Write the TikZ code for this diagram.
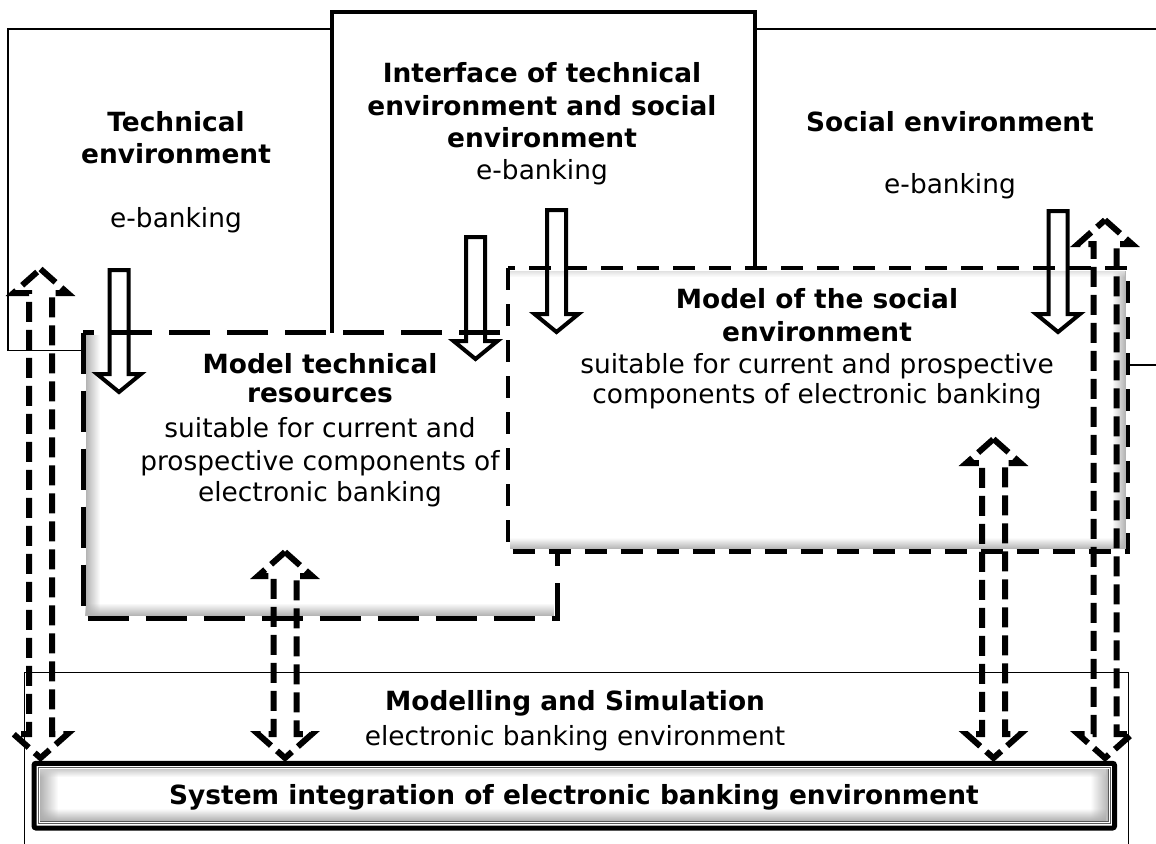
\documentclass[tikz,border=0pt]{standalone}
\usepackage{fontspec}
\setmainfont{DejaVu Sans}
\usetikzlibrary{calc,fadings}
\tikzfading[name=fadeR, left color=transparent!0, right color=transparent!100]
\tikzfading[name=fadeL, left color=transparent!100, right color=transparent!0]
\tikzfading[name=fadeU, top color=transparent!100, bottom color=transparent!0]
\tikzfading[name=fadeD, top color=transparent!0, bottom color=transparent!100]
\begin{document}
\begin{tikzpicture}[x=1pt,y=-1pt,
  box/.style={inner sep=0pt, outer sep=0pt, rectangle},
  thinbox/.style={box, draw=black, line width=1.3pt},
  ifbox/.style={box, draw=black, line width=3.5pt, fill=white},
  modelfill/.style={box, fill=white},
  mtborder/.style={draw=black, line width=5pt, dash pattern=on 41pt off 17pt},
  msborder/.style={draw=black, line width=4.8pt, dash pattern=on 22pt off 14pt},
  sysbox/.style={box, draw=black, line width=5pt, rounded corners=2pt, fill=white},
  txt/.style={anchor=base, inner sep=0pt, font=\fontsize{26.4}{32}\selectfont},
  btxt/.style={anchor=base, inner sep=0pt, font=\fontsize{26.4}{32}\selectfont\bfseries},
  blockarrow/.style={draw=black, line width=4pt, miter limit=10,
    to path={let \p1=(\tikztostart), \p2=(\tikztotarget) in
      (\x1-9.5pt,\y1) -- (\x1+9.5pt,\y1) -- (\x1+9.5pt,\y2+18pt) -- (\x1+22pt,\y2+18pt)
      -- (\x2,\y2) -- (\x1-22pt,\y2+18pt) -- (\x1-9.5pt,\y2+18pt) -- cycle}},
  dblarrow/.style={draw=black, line width=6pt, dash pattern=on 20pt off 8pt,
    to path={let \p1=(\tikztostart), \p2=(\tikztotarget) in
      (\x1,\y1) -- (\x1+27pt,\y1-24pt) -- (\x1+11.5pt,\y1-24pt) -- (\x1+11.5pt,\y2+24pt)
      -- (\x1+27pt,\y2+24pt) -- (\x2,\y2) -- (\x1-27pt,\y2+24pt) -- (\x1-11.5pt,\y2+24pt)
      -- (\x1-11.5pt,\y1-24pt) -- (\x1-27pt,\y1-24pt) -- cycle}}
]
\useasboundingbox (0,0) rectangle (1156,843);
\begin{scope}
\clip (0,0) rectangle (1156,843);

% environment boxes
\node[thinbox, minimum width=323pt, minimum height=321.5pt] (tech) at (169.5,189.75) {};
\node[thinbox, minimum width=420pt, minimum height=336pt] (soc) at (965,197) {};
\node[ifbox, minimum width=423pt, minimum height=326pt] (iface) at (543.5,175) {};

% model technical resources
\node[modelfill, minimum width=474pt, minimum height=285.5pt] (mt) at (320,475.25) {};
\fill[gray!60, path fading=fadeR] ([xshift=2.5pt,yshift=-2.5pt]mt.north west) rectangle ([xshift=17pt,yshift=2.5pt]mt.south west);
\fill[gray!60, path fading=fadeU] ([xshift=2.5pt,yshift=15pt]mt.south west) rectangle ([xshift=-2.5pt,yshift=2.5pt]mt.south east);
\draw[mtborder] (mt.north west) rectangle (mt.south east);

% model of the social environment
\node[modelfill, minimum width=620pt, minimum height=283.5pt] (ms) at (818,409.75) {};
\fill[gray!60, path fading=fadeL] ([xshift=-16pt,yshift=-2.5pt]ms.north east) rectangle ([xshift=-2.5pt,yshift=2.5pt]ms.south east);
\fill[gray!60, path fading=fadeU] ([xshift=2.5pt,yshift=14pt]ms.south west) rectangle ([xshift=-2.5pt,yshift=2.5pt]ms.south east);
\fill[gray!25, path fading=fadeD] ([xshift=2.5pt,yshift=-2.5pt]ms.north west) rectangle ([xshift=-2.5pt,yshift=-9pt]ms.north east);
\draw[msborder] (ms.north west) rectangle (ms.south east);

% modelling and simulation
\node[box, draw=black, line width=1pt, minimum width=1104pt, minimum height=228pt] (mod) at (576,786) {};

% system integration
\node[sysbox, minimum width=1080.5pt, minimum height=64.7pt] (sys) at (574.25,795.65) {};
\fill[gray!60, path fading=fadeR] (40,769) rectangle (58,821.5);
\fill[gray!60, path fading=fadeL] (1090.5,769) rectangle (1108.5,821.5);
\fill[gray!40, path fading=fadeD] (40,769) rectangle (1108.5,777);
\fill[gray!65, path fading=fadeU] (40,808.5) rectangle (1108.5,821.5);
\draw[draw=black!65, line width=0.6pt, double=white, double distance=1pt] (39,768) rectangle (1109.5,822.5);

% texts
\node[btxt] (tTech1) at (176,131) {Technical};
\node[btxt] (tTech2) at (176,163) {environment};
\node[txt]  (tTech3) at (176,227) {e-banking};

\node[btxt] (tIf1) at (542,82) {Interface of technical};
\node[btxt] (tIf2) at (542,115) {environment and social};
\node[btxt] (tIf3) at (542,147) {environment};
\node[txt]  (tIf4) at (542,179) {e-banking};

\node[btxt] (tSoc1) at (950,131) {Social environment};
\node[txt]  (tSoc2) at (950,193) {e-banking};

\node[btxt] (tMt1) at (320,373) {Model technical};
\node[btxt] (tMt2) at (320,402) {resources};
\node[txt]  (tMt3) at (320,437) {suitable for current and};
\node[txt]  (tMt4) at (320,470) {prospective components of};
\node[txt]  (tMt5) at (320,501) {electronic banking};

\node[btxt] (tMs1) at (817,308) {Model of the social};
\node[btxt] (tMs2) at (817,341) {environment};
\node[txt]  (tMs3) at (817,373) {suitable for current and prospective};
\node[txt]  (tMs4) at (817,403) {components of electronic banking};

\node[btxt] (tMod1) at (575,710) {Modelling and Simulation};
\node[txt]  (tMod2) at (575,745) {electronic banking environment};

\node[btxt] (tSys) at (574,804) {System integration of electronic banking environment};

% block arrows (environment -> models)
\coordinate (ba1s) at (119,270);   \coordinate (ba1e) at (119,392);
\coordinate (ba2s) at (475.5,237); \coordinate (ba2e) at (475.5,359);
\coordinate (ba3s) at (556.5,210); \coordinate (ba3e) at (556.5,332);
\coordinate (ba4s) at (1058,211);  \coordinate (ba4e) at (1058,332);
\draw[blockarrow] (ba1s) to (ba1e);
\draw[blockarrow] (ba2s) to (ba2e);
\draw[blockarrow] (ba3s) to (ba3e);
\draw[blockarrow] (ba4s) to (ba4e);

% dashed double arrows (to system integration)
\coordinate (daT) at (40.5,269);  \coordinate (daB) at (40.5,758);
\coordinate (dbT) at (285,552);   \coordinate (dbB) at (285,758);
\coordinate (dcT) at (993.5,439); \coordinate (dcB) at (993.5,758);
\coordinate (ddT) at (1105,220);  \coordinate (ddB) at (1105,758);
\draw[dblarrow] (daT) to (daB);
\draw[dblarrow] (dbT) to (dbB);
\draw[dblarrow] (dcT) to (dcB);
\draw[dblarrow] (ddT) to (ddB);
\end{scope}
\end{tikzpicture}
\end{document}
